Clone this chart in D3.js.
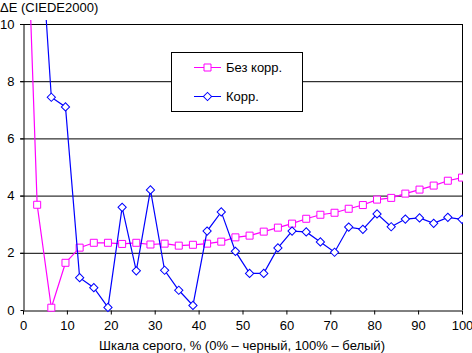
<!DOCTYPE html>
<html>
<head>
<meta charset="utf-8">
<script src="https://cdn.jsdelivr.net/npm/d3@7"></script>
<style>
  body { margin: 0; background: #fff; }
  svg { display: block; font-family: "Liberation Sans", Arial, sans-serif; }
</style>
</head>
<body>
<svg width="472" height="353"></svg>
<script>
// gray level, % (32 steps from 0 to 100)
const steps = d3.range(32);
const noCorr = [18, 3.68, 0.08, 1.65, 2.18, 2.35, 2.35, 2.31, 2.35, 2.29,
  2.32, 2.25, 2.28, 2.32, 2.39, 2.54, 2.60, 2.74, 2.88, 3.02,
  3.19, 3.33, 3.40, 3.54, 3.67, 3.86, 3.92, 4.07, 4.21, 4.35, 4.52, 4.63];
const withCorr = [22, 15, 7.44, 7.10, 1.13, 0.78, 0.09, 3.59, 1.37, 4.20,
  1.39, 0.69, 0.16, 2.76, 3.43, 2.05, 1.28, 1.28, 2.17, 2.76,
  2.73, 2.38, 2.02, 2.90, 2.82, 3.36, 2.91, 3.18, 3.22, 3.03, 3.24, 3.17];
const xTicks = [0, 10, 20, 30, 40, 50, 60, 70, 80, 90, 100];
const yTicks = [0, 2, 4, 6, 8, 10];
const seriesNames = ["Без корр.", "Корр."];

const svg = d3.select("svg");

const x = d3.scaleLinear().domain([0, 100]).range([23, 462]);
const y = d3.scaleLinear().domain([0, 10]).range([310, 24]);
const gray = i => i * 100 / 31;

// grid lines
svg.append("g")
  .selectAll("line")
  .data(yTicks.filter(d => d > 0))
  .join("line")
  .attr("x1", x(0) - 3).attr("x2", x(100))
  .attr("y1", d => y(d) + 0.5).attr("y2", d => y(d) + 0.5)
  .attr("stroke", "#000");

// right border
svg.append("line")
  .attr("x1", x(100) + 0.5).attr("x2", x(100) + 0.5)
  .attr("y1", y(10)).attr("y2", y(0))
  .attr("stroke", "#000");

// axes
const xAxis = svg.append("g")
  .attr("transform", `translate(0,${y(0) + 0.5})`)
  .call(d3.axisBottom(x).tickValues(xTicks).tickSize(4).tickSizeOuter(0).tickPadding(6));

const yAxis = svg.append("g")
  .attr("transform", `translate(${x(0) + 0.5},0)`)
  .call(d3.axisLeft(y).tickValues(yTicks).tickSize(3).tickSizeOuter(0).tickPadding(6));

[xAxis, yAxis].forEach(g => {
  g.selectAll("path, line").attr("stroke", "#000");
  g.selectAll("text").attr("fill", "#000").style("font-size", "13px")
    .style("font-family", "'Liberation Sans', Arial, sans-serif");
});

// clip for data lines
svg.append("clipPath").attr("id", "plot")
  .append("rect").attr("x", x(0)).attr("y", 20)
  .attr("width", x(100) - x(0) + 1).attr("height", 300);

const line = d3.line().x((d, i) => x(gray(i))).y(d => y(d));

const squareSym = d3.symbol(d3.symbolSquare, 49);
const diamondSym = d3.symbol(d3.symbolSquare, 34);

const plot = svg.append("g").attr("clip-path", "url(#plot)");

function drawSeries(values, color, sym, rotate) {
  plot.append("path")
    .datum(values)
    .attr("d", line)
    .attr("fill", "none")
    .attr("stroke", color)
    .attr("stroke-width", 1.2);

  plot.append("g")
    .selectAll("path")
    .data(values)
    .join("path")
    .attr("d", sym)
    .attr("transform", (d, i) => `translate(${x(gray(i))},${y(d)}) rotate(${rotate})`)
    .attr("fill", "#fff")
    .attr("stroke", color)
    .attr("stroke-width", 1);
}

drawSeries(noCorr, "#ff00ff", squareSym, 0);
drawSeries(withCorr, "#0000ff", diamondSym, 45);

// titles
svg.append("text")
  .attr("x", 0).attr("y", 12)
  .style("font-size", "13px")
  .text("ΔE (CIEDE2000)");

svg.append("text")
  .attr("x", 242).attr("y", 350)
  .attr("text-anchor", "middle")
  .style("font-size", "13px")
  .text("Шкала серого, % (0% – черный, 100% – белый)");

// legend
const legend = svg.append("g");
legend.append("rect")
  .attr("x", 171.5).attr("y", 52.5)
  .attr("width", 131).attr("height", 59)
  .attr("fill", "#fff").attr("stroke", "#000");

const legendItems = [
  { name: seriesNames[0], color: "#ff00ff", sym: squareSym, rot: 0 },
  { name: seriesNames[1], color: "#0000ff", sym: diamondSym, rot: 45 }
];

legendItems.forEach((d, i) => {
  const cy = 67 + i * 29;
  legend.append("line")
    .attr("x1", 194).attr("x2", 221)
    .attr("y1", cy + 0.5).attr("y2", cy + 0.5)
    .attr("stroke", d.color);
  legend.append("path")
    .attr("d", d.sym)
    .attr("transform", `translate(207.5,${cy + 0.5}) rotate(${d.rot})`)
    .attr("fill", "#fff").attr("stroke", d.color);
  legend.append("text")
    .attr("x", 226).attr("y", cy + 5)
    .style("font-size", "13px")
    .text(d.name);
});
</script>
</body>
</html>
